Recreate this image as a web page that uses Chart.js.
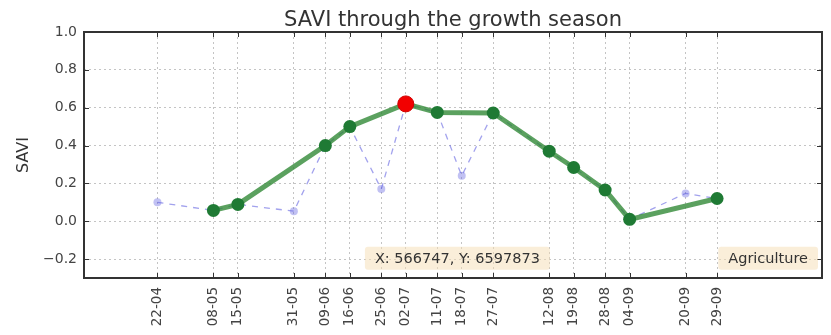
<!DOCTYPE html>
<html>
<head>
<meta charset="utf-8">
<script src="https://cdn.jsdelivr.net/npm/chart.js@4"></script>
<style>
  body { margin: 0; background: #fff; }
  canvas { display: block; }
</style>
</head>
<body>
<canvas id="saviChart" width="831" height="335"></canvas>
<script>
// acquisition dates (dd-mm) and raw SAVI values
const dateLabels = ['22-04', '08-05', '15-05', '31-05', '09-06', '16-06', '25-06', '02-07', '11-07',
                    '18-07', '27-07', '12-08', '19-08', '28-08', '04-09', '20-09', '29-09'];
const rawSavi = [0.10, 0.057, 0.089, 0.053, 0.40, 0.50, 0.17, 0.62, 0.575,
                 0.24, 0.572, 0.37, 0.284, 0.165, 0.01, 0.147, 0.12];

// cleaned series (cloudy dates removed)
const cleanDates = ['08-05', '15-05', '09-06', '16-06', '02-07', '11-07', '27-07',
                    '12-08', '19-08', '28-08', '04-09', '29-09'];
const cleanSavi = [0.057, 0.089, 0.40, 0.50, 0.62, 0.575, 0.572, 0.37, 0.284, 0.165, 0.01, 0.12];

// peak
const peakDate = ['02-07'];
const peakSavi = [0.62];

const yTicks = [-0.2, 0.0, 0.2, 0.4, 0.6, 0.8, 1.0];
const xRange = ['01-04', '29-10'];

// day of year from "dd-mm"
function doy(s) {
    const [d, m] = s.split('-').map(Number);
    return (Date.UTC(2015, m - 1, d) - Date.UTC(2015, 0, 1)) / 86400000 + 1;
}
const toPoints = (dates, vals) => dates.map((d, i) => ({ x: doy(d), y: vals[i] }));
const labelByDay = {};
dateLabels.forEach(d => { labelByDay[doy(d)] = d; });

const FONT = 'DejaVu Sans';

// title over the axes, frame, inward ticks and text boxes (matplotlib look)
const decorations = {
    id: 'decorations',
    afterDraw(chart) {
        const ctx = chart.ctx;
        const a = chart.chartArea;
        const xs = chart.scales.x, ys = chart.scales.y;
        ctx.save();

        ctx.fillStyle = '#333';
        ctx.font = '21px "' + FONT + '"';
        ctx.textAlign = 'center';
        ctx.textBaseline = 'alphabetic';
        ctx.fillText('SAVI through the growth season', (a.left + a.right) / 2, a.top - 6);

        ctx.strokeStyle = '#333';
        ctx.lineWidth = 1;
        ctx.beginPath();
        xs.ticks.forEach(t => {
            const px = Math.round(xs.getPixelForValue(t.value)) + 0.5;
            ctx.moveTo(px, a.bottom); ctx.lineTo(px, a.bottom - 5);
            ctx.moveTo(px, a.top); ctx.lineTo(px, a.top + 5);
        });
        ys.ticks.forEach(t => {
            const py = Math.round(ys.getPixelForValue(t.value)) + 0.5;
            ctx.moveTo(a.left, py); ctx.lineTo(a.left + 5, py);
            ctx.moveTo(a.right, py); ctx.lineTo(a.right - 5, py);
        });
        ctx.stroke();

        ctx.lineWidth = 2;
        ctx.strokeRect(a.left, a.top, a.right - a.left, a.bottom - a.top);

        const box = (text, fx, fy) => {
            ctx.font = '14.5px "' + FONT + '"';
            const w = ctx.measureText(text).width + 20;
            const h = 23;
            const cx = a.left + fx * (a.right - a.left);
            const cy = a.top + fy * (a.bottom - a.top);
            ctx.fillStyle = 'rgba(245,222,179,0.5)';
            ctx.beginPath();
            ctx.roundRect(cx - w / 2, cy - h / 2, w, h, 3);
            ctx.fill();
            ctx.fillStyle = '#333';
            ctx.textAlign = 'center';
            ctx.textBaseline = 'middle';
            ctx.fillText(text, cx, cy + 1);
        };
        box('X: 566747, Y: 6597873', 0.506, 0.92);
        box('Agriculture', 0.927, 0.92);
        ctx.restore();
    }
};

new Chart(document.getElementById('saviChart'), {
    type: 'line',
    data: {
        datasets: [{
            data: toPoints(peakDate, peakSavi),
            showLine: false,
            pointRadius: 8,
            pointBackgroundColor: '#f20000',
            pointBorderColor: '#d00000',
            pointBorderWidth: 1,
            order: 0
        }, {
            data: toPoints(cleanDates, cleanSavi),
            borderColor: 'rgba(45,135,50,0.78)',
            borderWidth: 5,
            pointRadius: 6.5,
            pointBackgroundColor: '#1f7a34',
            pointBorderWidth: 0,
            order: 1
        }, {
            data: toPoints(dateLabels, rawSavi),
            borderColor: 'rgba(100,100,225,0.6)',
            borderWidth: 1.3,
            borderDash: [6, 6],
            pointRadius: 4,
            pointBackgroundColor: 'rgba(100,100,225,0.4)',
            pointBorderWidth: 0,
            order: 2
        }]
    },
    options: {
        responsive: false,
        animation: false,
        layout: { padding: { top: 32, right: 2 } },
        plugins: {
            legend: { display: false },
            tooltip: { enabled: false },
            title: { display: false }
        },
        scales: {
            x: {
                type: 'linear',
                min: doy(xRange[0]),
                max: doy(xRange[1]),
                afterBuildTicks: s => { s.ticks = dateLabels.map(d => ({ value: doy(d) })); },
                afterFit: s => { s.height = 57; },
                grid: { color: '#c4c4c4', drawTicks: false },
                border: { display: false, dash: [2, 3] },
                ticks: {
                    autoSkip: false,
                    minRotation: 90,
                    maxRotation: 90,
                    padding: 9,
                    color: '#444',
                    font: { family: FONT, size: 13.5 },
                    callback: v => labelByDay[v] || ''
                }
            },
            y: {
                min: -0.3,
                max: 1.0,
                afterBuildTicks: s => { s.ticks = yTicks.map(v => ({ value: v })); },
                afterFit: s => { s.width = 84; },
                grid: { color: '#c4c4c4', drawTicks: false },
                border: { display: false, dash: [2, 3] },
                ticks: {
                    padding: 7,
                    color: '#444',
                    font: { family: FONT, size: 14 },
                    callback: v => v.toFixed(1).replace('-', '\u2212')
                },
                title: {
                    display: true,
                    text: 'SAVI',
                    color: '#333',
                    font: { family: FONT, size: 16 },
                    padding: { top: 14, bottom: 0 }
                }
            }
        }
    },
    plugins: [decorations]
});
</script>
</body>
</html>
